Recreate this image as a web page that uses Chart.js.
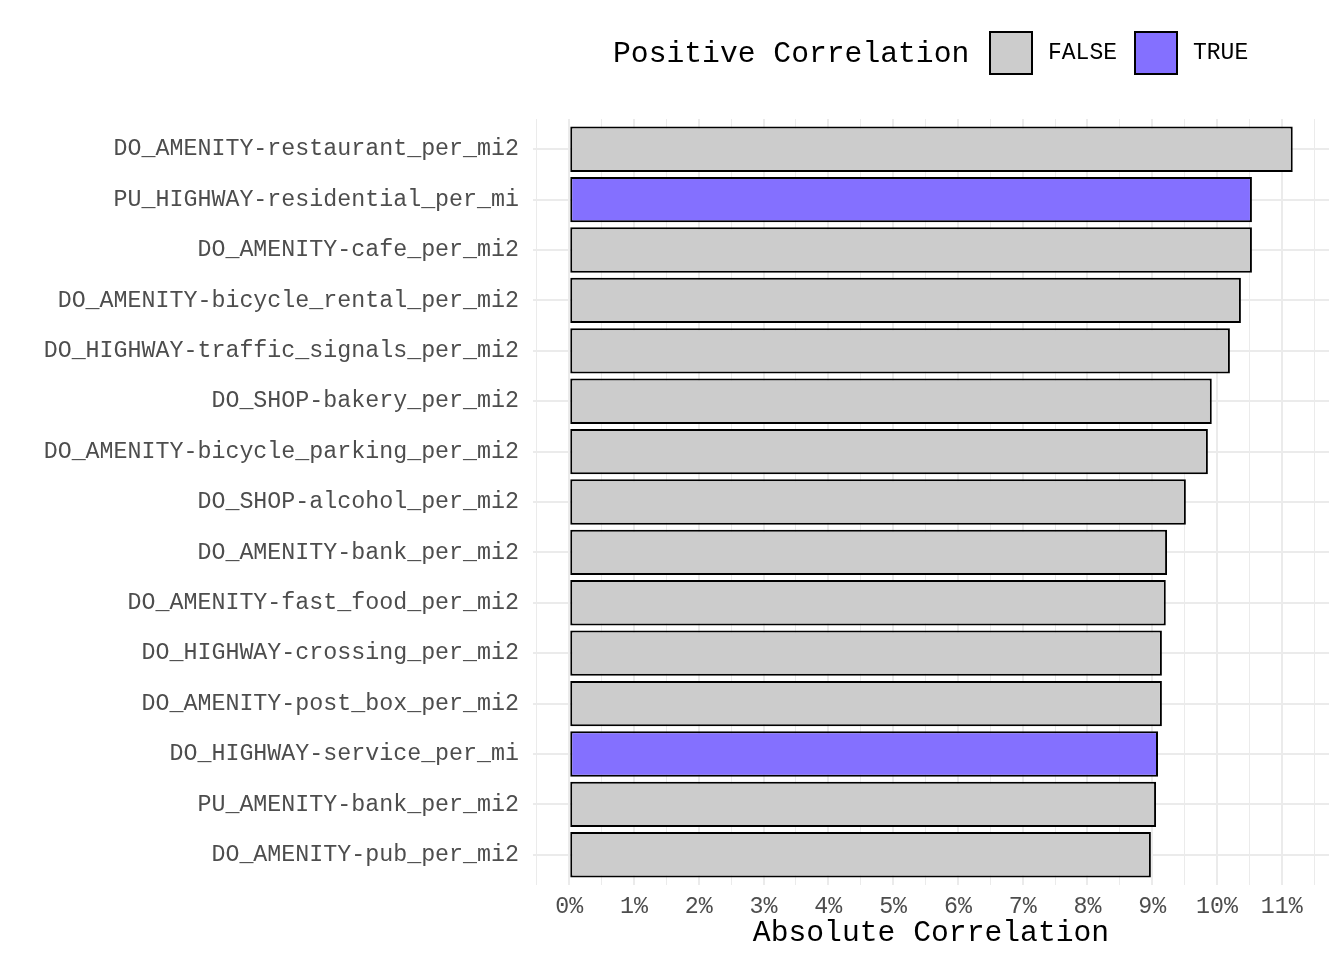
<!DOCTYPE html>
<html>
<head>
<meta charset="utf-8">
<script src="https://cdn.jsdelivr.net/npm/chart.js@4/dist/chart.umd.min.js"></script>
<style>
  body { margin: 0; background: #fff; }
  #wrap { position: relative; width: 1344px; height: 960px; }
  #legend { position: absolute; left: 0; top: 0; font-family: 'Liberation Mono', monospace; }
  .lg-title { position: absolute; left: 613px; top: 37px; font-size: 29.7px; line-height: 34px; color: #000; white-space: nowrap; }
  .lg-box { position: absolute; top: 31px; width: 40px; height: 40px; border: 2px solid #000; }
  .lg-text { position: absolute; top: 40px; font-size: 23px; line-height: 26px; color: #000; white-space: nowrap; }
</style>
</head>
<body>
<div id="wrap">
  <canvas id="corrChart" width="1344" height="960"></canvas>
  <div id="legend"></div>
</div>
<script>
var features = [
  'DO_AMENITY-restaurant_per_mi2',
  'PU_HIGHWAY-residential_per_mi',
  'DO_AMENITY-cafe_per_mi2',
  'DO_AMENITY-bicycle_rental_per_mi2',
  'DO_HIGHWAY-traffic_signals_per_mi2',
  'DO_SHOP-bakery_per_mi2',
  'DO_AMENITY-bicycle_parking_per_mi2',
  'DO_SHOP-alcohol_per_mi2',
  'DO_AMENITY-bank_per_mi2',
  'DO_AMENITY-fast_food_per_mi2',
  'DO_HIGHWAY-crossing_per_mi2',
  'DO_AMENITY-post_box_per_mi2',
  'DO_HIGHWAY-service_per_mi',
  'PU_AMENITY-bank_per_mi2',
  'DO_AMENITY-pub_per_mi2'
];
var absCorr = [11.17, 10.54, 10.54, 10.37, 10.20, 9.92, 9.86, 9.52, 9.23, 9.21, 9.15, 9.15, 9.09, 9.06, 8.98];
var positive = [false, true, false, false, false, false, false, false, false, false, false, false, true, false, false];
var majorTicks = [0, 1, 2, 3, 4, 5, 6, 7, 8, 9, 10, 11];
var legendLabels = ['FALSE', 'TRUE'];
var fillFalse = '#cccccc';
var fillTrue = '#8470ff';

var mono = "'Liberation Mono', 'Courier New', monospace";

// legend in html
var lg = document.getElementById('legend');
lg.innerHTML =
  '<div class="lg-title">Positive Correlation</div>' +
  '<div class="lg-box" style="left:989px;background:' + fillFalse + '"></div>' +
  '<div class="lg-text" style="left:1048px">' + legendLabels[0] + '</div>' +
  '<div class="lg-box" style="left:1134px;background:' + fillTrue + '"></div>' +
  '<div class="lg-text" style="left:1193px">' + legendLabels[1] + '</div>';

var allTicks = [];
majorTicks.forEach(function(t, i) {
  if (i === 0) allTicks.push(t - 0.5);
  allTicks.push(t);
  allTicks.push(t + 0.5);
});

// numeric positions so the y axis can use ggplot style padding
var points = absCorr.map(function(v, i) { return { x: v, y: i }; });

const ctx = document.getElementById('corrChart');
let corrChart = new Chart(ctx, {
  type: 'bar',
  data: {
    datasets: [{
      data: points,
      backgroundColor: positive.map(function(p) { return p ? fillTrue : fillFalse; }),
      borderColor: '#000',
      borderWidth: 2,
      borderSkipped: false,
      barPercentage: 0.9,
      categoryPercentage: 1
    }]
  },
  options: {
    indexAxis: 'y',
    responsive: false,
    animation: false,
    layout: { padding: { top: 119, right: 15, left: 0, bottom: 0 } },
    plugins: { legend: { display: false }, tooltip: { enabled: false } },
    scales: {
      x: {
        type: 'linear',
        min: -0.56,
        max: 11.73,
        afterBuildTicks: function(scale) {
          scale.ticks = allTicks.map(function(v) { return { value: v }; });
        },
        afterFit: function(scale) { scale.height = 75; },
        border: { display: false },
        grid: {
          drawTicks: false,
          color: '#ebebeb',
          lineWidth: function(c) { return Number.isInteger(c.tick.value) ? 2 : 1; }
        },
        ticks: {
          autoSkip: false,
          maxRotation: 0,
          padding: 8,
          color: '#4d4d4d',
          font: { family: mono, size: 23.3 },
          callback: function(v) { return Number.isInteger(v) ? v + '%' : ''; }
        },
        title: {
          display: true,
          text: 'Absolute Correlation',
          color: '#000',
          font: { family: mono, size: 29.7 },
          padding: { top: 0, bottom: 9 }
        }
      },
      y: {
        type: 'linear',
        reverse: true,
        offset: false,
        min: -0.6,
        max: features.length - 0.4,
        afterBuildTicks: function(scale) {
          scale.ticks = features.map(function(f, i) { return { value: i }; });
        },
        afterFit: function(scale) { scale.width = 533; },
        border: { display: false },
        grid: { offset: false, drawTicks: false, color: '#ebebeb', lineWidth: 2 },
        ticks: {
          autoSkip: false,
          padding: 14,
          color: '#4d4d4d',
          font: { family: mono, size: 23.3 },
          callback: function(v) { return features[v]; }
        }
      }
    }
  }
});
</script>
</body>
</html>
